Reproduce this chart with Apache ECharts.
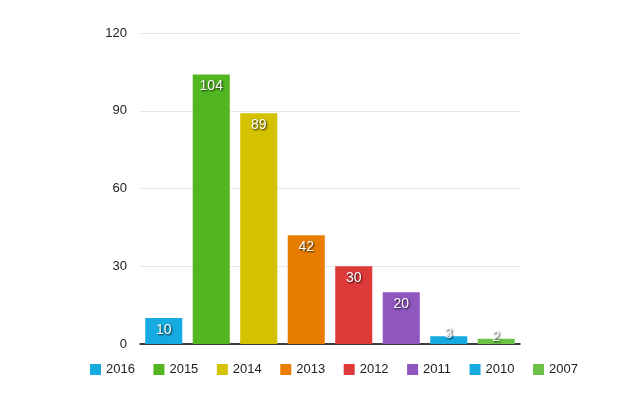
<!DOCTYPE html>
<html><head><meta charset="utf-8">
<script src="https://cdn.jsdelivr.net/npm/echarts@6/dist/echarts.min.js"></script>
<style>html,body{margin:0;padding:0;background:#fff}#c{width:617px;height:395px}</style>
</head><body><div id="c"></div>
<script>
const years = ['2016','2015','2014','2013','2012','2011','2010','2007'];
const values = [10,104,89,42,30,20,3,2];
const colors = ['#16abe0','#52b622','#d4c100','#e97d00','#df3a3a','#8f56bf','#16abe0','#6cc148'];
const yTicks = [0,30,60,90,120];

const series = years.map((y,i)=>({
  name: y,
  type: 'bar',
  stack: 'all',
  barWidth: '78%',
  data: years.map((_,j)=> {
    if (j !== i) return null;
    const v = values[i];
    return v < 6 ? {value: v, label: {position: 'top', distance: -5}} : v;
  }),
  itemStyle: {color: colors[i]},
  label: {
    show: true, position: 'insideTop', distance: 5,
    color: '#fff', fontSize: 14, fontFamily: 'Liberation Sans, Arial, sans-serif',
    textShadowColor: 'rgba(0,0,0,0.85)', textShadowBlur: 2, textShadowOffsetX: 1, textShadowOffsetY: 1
  }
}));

const chart = echarts.init(document.getElementById('c'));
chart.setOption({
  animation: false,
  legend: {
    left: 85, top: 358, width: 560, itemWidth: 11, itemHeight: 11, itemGap: 18.5,
    icon: 'rect',
    textStyle: {fontSize: 13, color: '#222', fontFamily: 'Liberation Sans, Arial, sans-serif'},
    data: years
  },
  grid: {left: 140, right: 97, top: 33, bottom: 51},
  xAxis: {
    type: 'category', data: years,
    axisLine: {lineStyle: {color: '#000', width: 1.5}},
    axisTick: {show: false}, axisLabel: {show: false}
  },
  yAxis: {
    type: 'value', min: yTicks[0], max: yTicks[yTicks.length-1], interval: 30,
    axisLine: {show: false}, axisTick: {show: false},
    axisLabel: {color: '#222', fontSize: 13, margin: 13, fontFamily: 'Liberation Sans, Arial, sans-serif'},
    splitLine: {lineStyle: {color: '#e8e8e8'}}
  },
  series
});
</script></body></html>
